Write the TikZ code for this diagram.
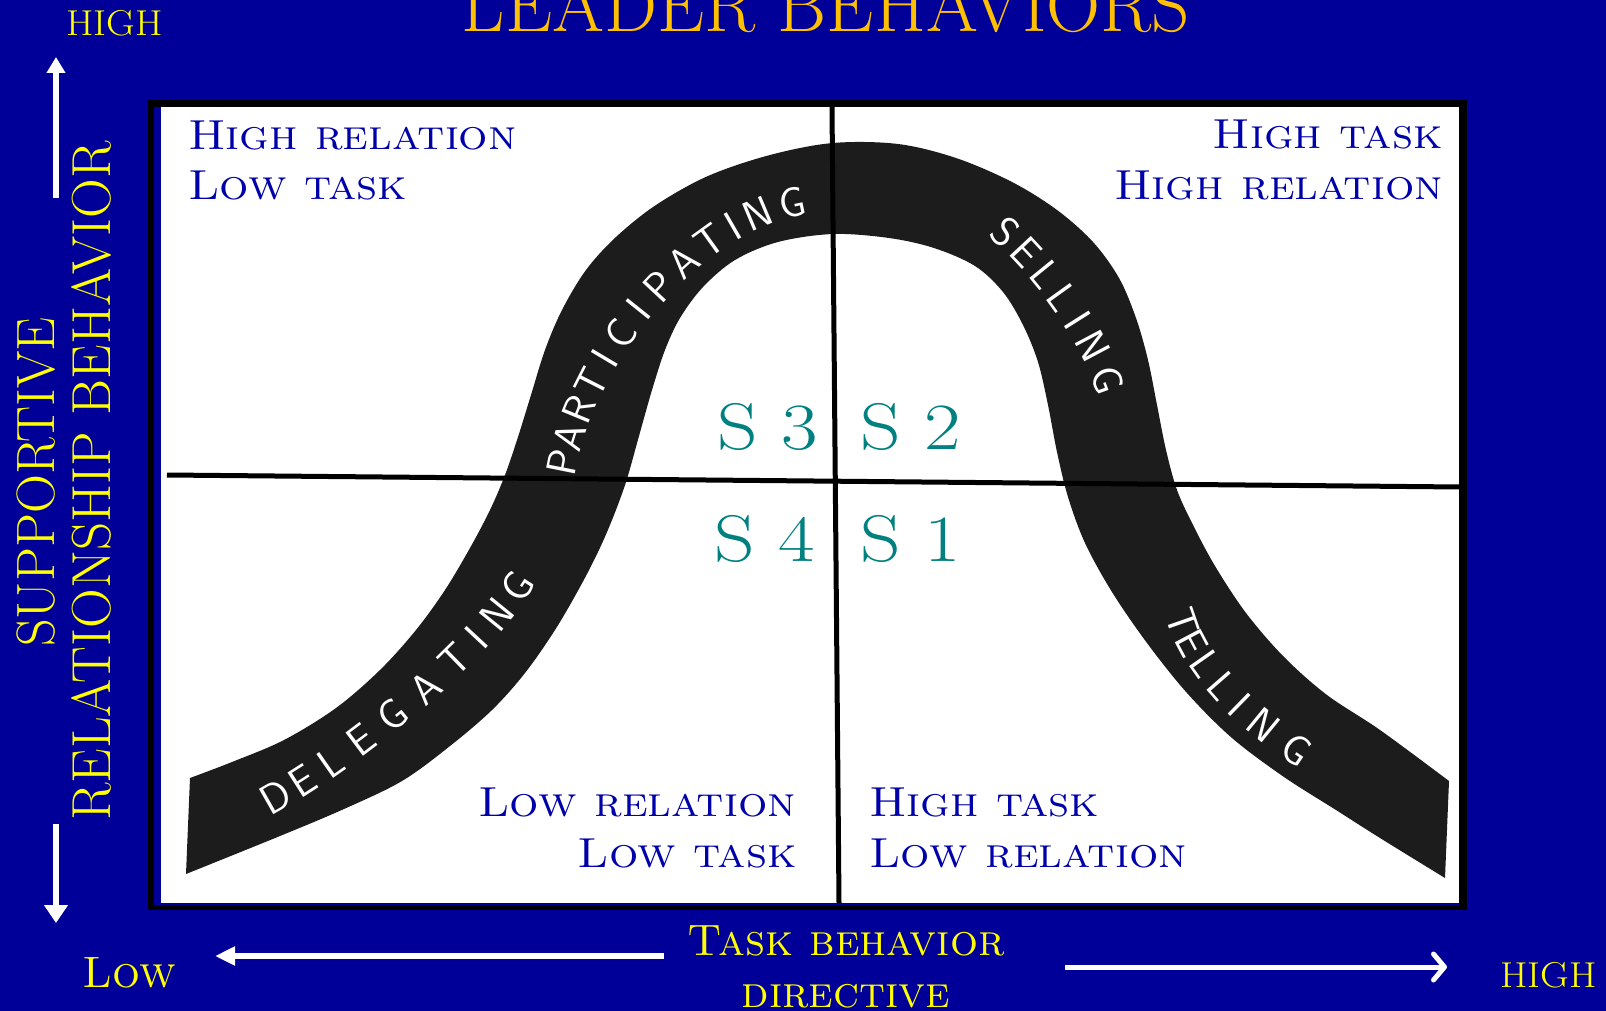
\documentclass[tikz,border=0pt]{standalone}
\usepackage{fontspec}
\usetikzlibrary{arrows.meta, positioning}

\definecolor{bgblue}{RGB}{0,0,153}
\definecolor{titlegold}{RGB}{255,192,0}
\definecolor{axisyellow}{RGB}{255,255,0}
\definecolor{quadblue}{RGB}{0,0,170}
\definecolor{stageteal}{RGB}{0,128,128}
\definecolor{bandblack}{RGB}{28,28,28}

\newcommand{\widetext}[1]{\scalebox{1.1}[1]{#1}}

\tikzset{
  quad/.style={text=quadblue, inner sep=0pt, font=\fontsize{42}{50}\selectfont\scshape},
  axislabel/.style={text=axisyellow, inner sep=0pt},
  stage/.style={text=stageteal, inner sep=0pt, font=\fontsize{66}{66}\selectfont},
  axisarrow/.style={draw=white, line width=6pt},
  divider/.style={draw=black, line width=5pt},
  bandletter/.style={text=white, inner sep=0pt, sloped, anchor=center,
    font=\sffamily\fontsize{42}{42}\selectfont},
}

\begin{document}
\begin{tikzpicture}[x=1pt, y=-1pt]
    \useasboundingbox (0,0) rectangle (1606,1011);
    \clip (0,0) rectangle (1606,1011);
    \fill[bgblue] (0,0) rectangle (1606,1011);

    % frame
    \fill[black] (148,100) rectangle (1467,910);
    \fill[bgblue] (154,107) rectangle (1459,905);
    \fill[white] (161,107) rectangle (1459,903);

    % the bell shaped band
    \fill[bandblack] plot[smooth, tension=0.55] coordinates {
        (190,778) (232,762) (284,740) (336,708) (380,670) (416,630) (445,590)
        (470,548) (490,510) (505,475) (518,437) (531,395) (545,350) (562,310)
        (586,270) (616,237) (656,205) (708,176) (770,155) (833,143) (898,144)
        (956,158) (1012,182) (1057,210) (1093,242) (1119,278) (1136,318)
        (1148,360) (1157,405) (1166,450) (1177,490) (1193,525) (1215,566)
        (1246,613) (1284,657) (1327,695) (1380,730) (1449,781)}
      -- plot[smooth, tension=0.55] coordinates {
        (1445,878) (1380,838) (1336,810) (1284,777) (1232,738) (1187,693)
        (1147,643) (1112,592) (1085,543) (1068,497) (1057,452) (1048,405)
        (1038,362) (1023,325) (1003,292) (975,266) (934,248) (889,238)
        (833,234) (778,242) (735,260) (703,287) (680,318) (665,350) (652,390)
        (639,436) (626,482) (612,520) (598,552) (580,587) (555,630) (525,673)
        (492,710) (450,746) (402,781) (344,809) (280,836) (186,874)}
      -- cycle;

    % words along the band
    \path (276,797) .. controls (350,755) and (470,660) .. (517,587)
      foreach \ch/\t in {D/0, E/0.112, L/0.222, E/0.333, G/0.45,
                         A/0.57, T/0.685, I/0.78, N/0.88, G/1}
      {node[bandletter, pos=\t] {\ch}};
    \path (563,462) .. controls (583,362) and (682,226) .. (792,203)
      foreach \ch/\t in {P/0, A/0.083, R/0.167, T/0.25, I/0.325, C/0.4,
                         I/0.48, P/0.56, A/0.65, T/0.74, I/0.815, N/0.895, G/1}
      {node[bandletter, pos=\t] {\ch}};
    \path (1005,232) .. controls (1045,268) and (1090,330) .. (1108,380)
      foreach \ch/\t in {S/0, E/0.17, L/0.33, L/0.48, I/0.62, N/0.78, G/1}
      {node[bandletter, pos=\t] {\ch}};
    \path (1183,622) .. controls (1198,665) and (1240,713) .. (1300,752)
      foreach \ch/\t in {T/0, E/0.16, L/0.32, L/0.48, I/0.62, N/0.78, G/0.98}
      {node[bandletter, pos=\t] {\ch}};

    % quadrant lines
    \coordinate (vtop) at (832,107);
    \coordinate (vbot) at (839,903);
    \coordinate (hleft) at (167,475);
    \coordinate (hright) at (1461,487);
    \draw[divider] (vtop) -- (vbot);
    \draw[divider] (hleft) -- (hright);

    % quadrant texts
    \node[quad, anchor=base west] (tl1) at (188,150) {\widetext{High relation}};
    \node[quad, anchor=base west] (tl2) at (188,200) {\widetext{Low task}};
    \node[quad, anchor=base east] (tr1) at (1443,149) {\widetext{High task}};
    \node[quad, anchor=base east] (tr2) at (1443,200) {\widetext{High relation}};
    \node[quad, anchor=base east] (bl1) at (796,816) {\widetext{Low relation}};
    \node[quad, anchor=base east] (bl2) at (797,867) {\widetext{Low task}};
    \node[quad, anchor=base west] (br1) at (869,816) {\widetext{High task}};
    \node[quad, anchor=base west] (br2) at (869,867) {\widetext{Low relation}};

    % styles
    \node[stage, anchor=base east] (s3) at (818,449) {\scalebox{1.2}[1]{S 3}};
    \node[stage, anchor=base west] (s2) at (860,449) {\scalebox{1.2}[1]{S 2}};
    \node[stage, anchor=base east] (s4) at (815,561) {\scalebox{1.2}[1]{S 4}};
    \node[stage, anchor=base west] (s1) at (860,561) {\scalebox{1.2}[1]{S 1}};

    % title and axes
    \node[text=titlegold, inner sep=0pt, anchor=base,
      font=\fontsize{75}{75}\selectfont] (title) at (826,32) {LEADER BEHAVIORS};

    \node[axislabel, anchor=base west, font=\fontsize{36}{36}\selectfont] (yhigh) at (66,36) {\widetext{HIGH}};
    \node[axislabel, anchor=base, rotate=90, font=\fontsize{54}{54}\selectfont] (supp) at (54,482) {SUPPORTIVE};
    \node[axislabel, anchor=base, rotate=90, font=\fontsize{55}{55}\selectfont] (relb) at (110,481) {RELATIONSHIP BEHAVIOR};

    \node[axislabel, anchor=base west, font=\fontsize{44}{44}\selectfont\scshape] (xlow) at (82,987) {Low};
    \node[axislabel, anchor=base, font=\fontsize{44}{44}\selectfont\scshape] (task) at (846,955) {Task behavior};
    \node[axislabel, anchor=base, font=\fontsize{44}{44}\selectfont\scshape] (dirc) at (846,1007) {directive};
    \node[axislabel, anchor=base west, font=\fontsize{36}{36}\selectfont] (xhigh) at (1500,987) {\widetext{HIGH}};

    \coordinate (upfrom) at (56,198);
    \coordinate (upto) at (56,57);
    \coordinate (downfrom) at (56,824);
    \coordinate (downto) at (56,923);
    \coordinate (leftfrom) at (664,956);
    \coordinate (leftto) at (215,956);
    \coordinate (rightfrom) at (1065,967);
    \coordinate (rightto) at (1447,967);
    \draw[axisarrow, -{Triangle[length=16pt, width=18pt]}] (upfrom) -- (upto);
    \draw[axisarrow, -{Triangle[length=18pt, width=23pt]}] (downfrom) -- (downto);
    \draw[axisarrow, -{Triangle[length=20pt, width=18pt]}] (leftfrom) -- (leftto);
    \draw[axisarrow, line width=5pt, -{Straight Barb[length=11pt, width=26pt, round]}] (rightfrom) -- (rightto);
\end{tikzpicture}
\end{document}
